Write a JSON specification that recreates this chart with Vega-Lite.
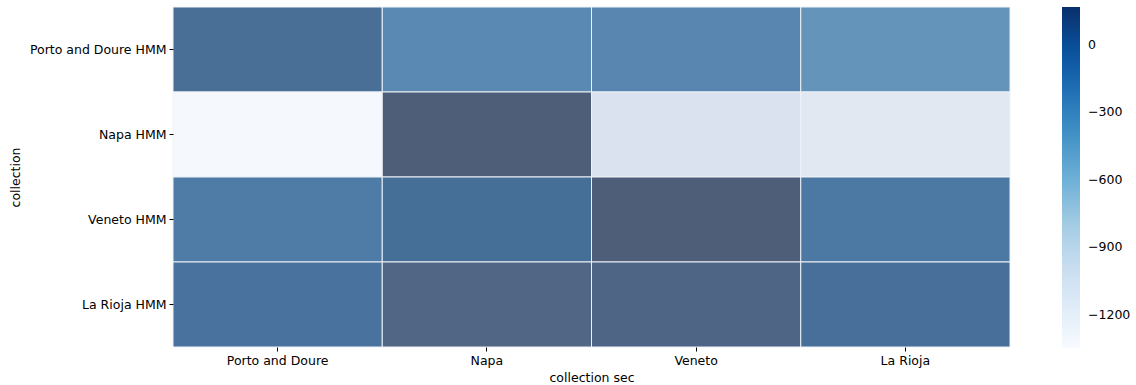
{
  "$schema": "https://vega.github.io/schema/vega-lite/v6.json",
  "width": 837,
  "height": 340,
  "autosize": {"type": "none"},
  "padding": {"left": 173, "top": 7, "right": 126, "bottom": 38},
  "background": "white",
  "config": {
    "font": "DejaVu Sans",
    "view": {"stroke": null},
    "axis": {"labelFont": "DejaVu Sans", "titleFont": "DejaVu Sans", "labelFontSize": 12.5, "titleFontSize": 12.5, "titleFontWeight": "normal", "labelColor": "#000", "titleColor": "#000", "tickColor": "#000", "domain": false, "grid": false, "tickSize": 4, "labelPadding": 3},
    "legend": {"labelFont": "DejaVu Sans", "labelFontSize": 12.5, "labelColor": "#000"}
  },
  "data": {
    "values": [
      {"collection": "Porto and Doure HMM", "collection_sec": "Porto and Doure", "value": -150},
      {"collection": "Porto and Doure HMM", "collection_sec": "Napa", "value": -420},
      {"collection": "Porto and Doure HMM", "collection_sec": "Veneto", "value": -380},
      {"collection": "Porto and Doure HMM", "collection_sec": "La Rioja", "value": -520},
      {"collection": "Napa HMM", "collection_sec": "Porto and Doure", "value": -1347},
      {"collection": "Napa HMM", "collection_sec": "Napa", "value": 169},
      {"collection": "Napa HMM", "collection_sec": "Veneto", "value": -1135},
      {"collection": "Napa HMM", "collection_sec": "La Rioja", "value": -1195},
      {"collection": "Veneto HMM", "collection_sec": "Porto and Doure", "value": -280},
      {"collection": "Veneto HMM", "collection_sec": "Napa", "value": -130},
      {"collection": "Veneto HMM", "collection_sec": "Veneto", "value": 150},
      {"collection": "Veneto HMM", "collection_sec": "La Rioja", "value": -250},
      {"collection": "La Rioja HMM", "collection_sec": "Porto and Doure", "value": -180},
      {"collection": "La Rioja HMM", "collection_sec": "Napa", "value": 50},
      {"collection": "La Rioja HMM", "collection_sec": "Veneto", "value": 60},
      {"collection": "La Rioja HMM", "collection_sec": "La Rioja", "value": -140}
    ]
  },
  "encoding": {
    "x": {"field": "collection_sec", "type": "nominal", "sort": null, "title": "collection sec",
      "scale": {"paddingInner": 0, "paddingOuter": 0},
      "axis": {"labelAngle": 0, "titlePadding": 5}},
    "y": {"field": "collection", "type": "nominal", "sort": null, "title": "collection",
      "scale": {"paddingInner": 0, "paddingOuter": 0},
      "axis": {"titlePadding": 7}}
  },
  "layer": [
    {
      "mark": {"type": "rect"},
      "encoding": {
        "color": {"field": "value", "type": "quantitative",
          "scale": {"domain": [-1347, 169],
            "range": ["#f7fbff", "#deebf7", "#c6dbef", "#9ecae1", "#6baed6", "#4292c6", "#2171b5", "#08519c", "#08306b"]},
          "legend": {"title": null, "orient": "none", "legendX": 889, "legendY": 0, "direction": "vertical",
            "gradientLength": 341, "gradientThickness": 18, "values": [0, -300, -600, -900, -1200],
            "format": "d", "labelOffset": 8, "gradientStrokeWidth": 0}}
      }
    },
    {
      "mark": {"type": "rect", "stroke": "#eef2f7", "strokeWidth": 1},
      "encoding": {
        "color": {"field": "value", "type": "quantitative", "legend": null,
          "scale": {
            "domain": [-1347, -1195, -1135, -520, -420, -380, -280, -250, -180, -150, -140, -130, 50, 60, 150, 169],
            "range": ["#f5f8fd", "#e1e8f2", "#d9e2ee", "#6594bb", "#5a8ab4", "#5886b0", "#4f7ca6", "#4c79a4", "#4a729e", "#4a6f96", "#486f99", "#466f98", "#516584", "#4e6585", "#4e5d78", "#4e5d78"],
            "interpolate": "rgb"
          }}
      }
    }
  ],
  "resolve": {"scale": {"color": "independent"}}
}
